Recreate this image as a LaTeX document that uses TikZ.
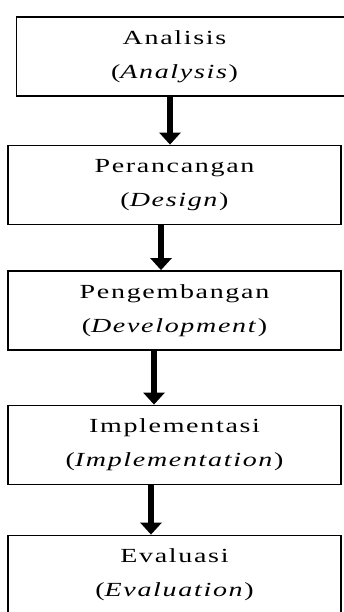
\documentclass[tikz,border=0pt]{standalone}
\usepackage{fontspec}
\setmainfont{Liberation Serif}[LetterSpace=6]
\usepackage{graphicx}
\usepackage{tikz}
\usetikzlibrary{arrows.meta, positioning}

% teks dua baris, sedikit dilebarkan (opsi: geser ke kiri)
\newcommand{\tahap}[3][0pt]{\hspace*{-#1}\scalebox{1.4}[1]{#2}\\
  \hspace*{-#1}\scalebox{1.4}[1]{(\textit{#3})}}

\begin{document}
\begin{tikzpicture}[
  x=1pt, y=-1pt,
  every node/.style={draw, line width=1.8pt, minimum width=333pt,
                     minimum height=79pt, align=center,
                     font=\fontsize{20}{34}\selectfont},
  arr/.style={-{Triangle[width=21pt, length=12pt]}, line width=6.5pt}
]
  \clip (0,0) rectangle (344,612);

  \node (analisis)  at (183,   56.5) {\tahap[17pt]{Analisis}{Analysis}};
  \node (rancang)   at (174.5, 185)  {\tahap{Perancangan}{Design}};
  \node (kembang)   at (174.5, 310.5){\tahap{Pengembangan}{Development}};
  \node (implement) at (174.5, 445)  {\tahap{Implementasi}{Implementation}};
  \node (evaluasi)  at (174.5, 575)  {\tahap{Evaluasi}{Evaluation}};

  % panah antar tahap
  \draw[arr] (analisis.south -| 170,0)  -- (rancang.north -| 170,0);
  \draw[arr] (rancang.south -| 161,0)   -- (kembang.north -| 161,0);
  \draw[arr] (kembang.south -| 154,0)   -- (implement.north -| 154,0);
  \draw[arr] (implement.south -| 151,0) -- (evaluasi.north -| 151,0);
\end{tikzpicture}
\end{document}
